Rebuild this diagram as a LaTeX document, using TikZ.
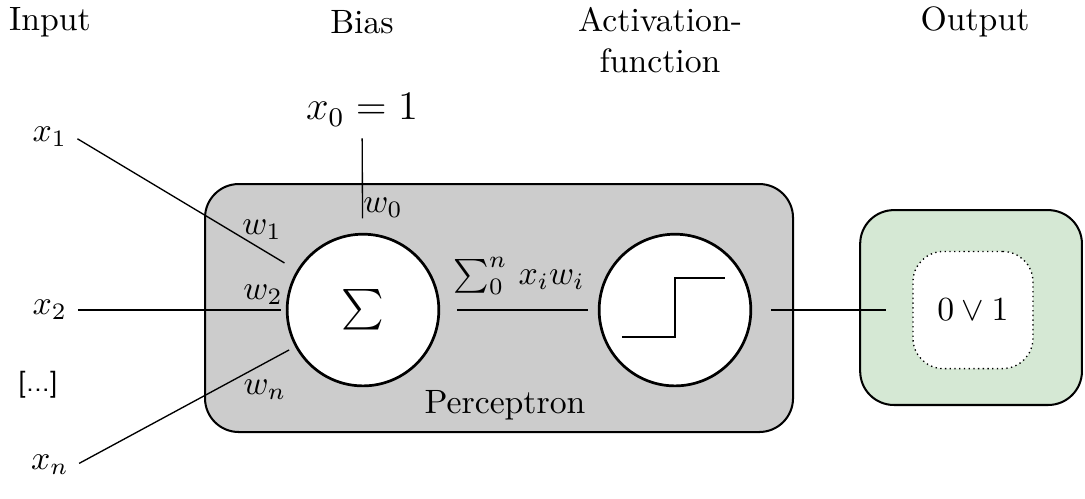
\documentclass[tikz,border=0pt]{standalone}
\usepackage{tikz}
\usepackage{amsmath}
\usetikzlibrary{positioning,calc}
\definecolor{pcGray}{HTML}{CCCCCC}
\definecolor{pcGreen}{HTML}{D5E8D4}
\tikzset{
  % column headings
  head/.style={align=center,inner sep=1pt},
  % input variables
  invar/.style={inner sep=2pt},
  % perceptron body (gray)
  pbody/.style={rectangle,rounded corners=10pt,draw,semithick,
    fill=pcGray,minimum width=6.125cm,minimum height=2.583cm},
  % neuron circles
  unit/.style={circle,draw,thick,fill=white,
    minimum size=1.58cm,inner sep=0pt},
  % output box (green)
  outbox/.style={rectangle,rounded corners=10pt,draw,semithick,
    fill=pcGreen,minimum width=2.31cm,minimum height=2.03cm},
  % output value (dotted)
  valbox/.style={rectangle,rounded corners=9pt,draw,densely dotted,
    fill=white,minimum width=1.25cm,minimum height=1.22cm},
  % connections
  conn/.style={thin},
  wlbl/.style={inner sep=1pt},
}
\begin{document}
\begin{tikzpicture}
  \useasboundingbox (0,0) rectangle (11.302,5.1875);

  % headings
  \node[head] (hin)  at (0.521,4.958)  {Input};
  \node[head] (hbias) at (3.771,4.958) {Bias};
  \node[head] (hact) at (6.875,4.771)  {Activation-\\function};
  \node[head] (hout) at (10.156,4.958) {Output};

  % perceptron
  \node[pbody] (body) at (5.198,1.979) {};
  \node[unit] (sum)  at (3.781,1.958) {\large$\sum$};
  \node[unit] (step) at (7.031,1.958) {};
  \node (plbl) at (5.26,0.969) {Perceptron};
  \draw[conn] ($(step)+(-0.552,-0.281)$) -- ++(0.552,0) |- ($(step)+(0.521,0.333)$);

  % output
  \node[outbox] (out) at (10.115,1.984) {};
  \node[valbox] (val) at (10.135,1.958) {$0 \vee 1$};

  % inputs
  \node[invar] (x1) at (0.52,3.76)  {$x_1$};
  \node[invar] (x2) at (0.52,1.958) {$x_2$};
  \node[invar,font=\footnotesize\sffamily] (xd) at (0.396,1.177) {[...]};
  \node[invar] (xn) at (0.52,0.344) {$x_n$};
  \node[invar,font=\large] (x0) at (3.771,4.042) {$x_0 = 1$};

  % weights
  \node[wlbl] (w0) at (3.99,3.021)  {$w_0$};
  \node[wlbl] (w1) at (2.729,2.792) {$w_1$};
  \node[wlbl] (w2) at (2.74,2.115)  {$w_2$};
  \node[wlbl] (wn) at (2.76,1.125)  {$w_n$};

  % connections
  \draw[conn,shorten <=1pt,shorten >=0.15cm] (x1.east) -- (sum);
  \draw[conn,shorten <=1pt,shorten >=0.05cm] (x2) -- (sum);
  \draw[conn,shorten <=1pt,shorten >=0.07cm] (xn.east) -- (sum);
  \draw[conn,shorten <=0.05cm,shorten >=0.15cm] (x0) -- (sum);
  \draw[conn,shorten <=0.18cm,shorten >=0.1cm] (sum) -- node[above=1pt] {$\sum_0^n \, x_i w_i$} (step);
  \draw[conn,shorten <=0.2cm,shorten >=0.27cm] (step) -- (val);

\end{tikzpicture}
\end{document}
